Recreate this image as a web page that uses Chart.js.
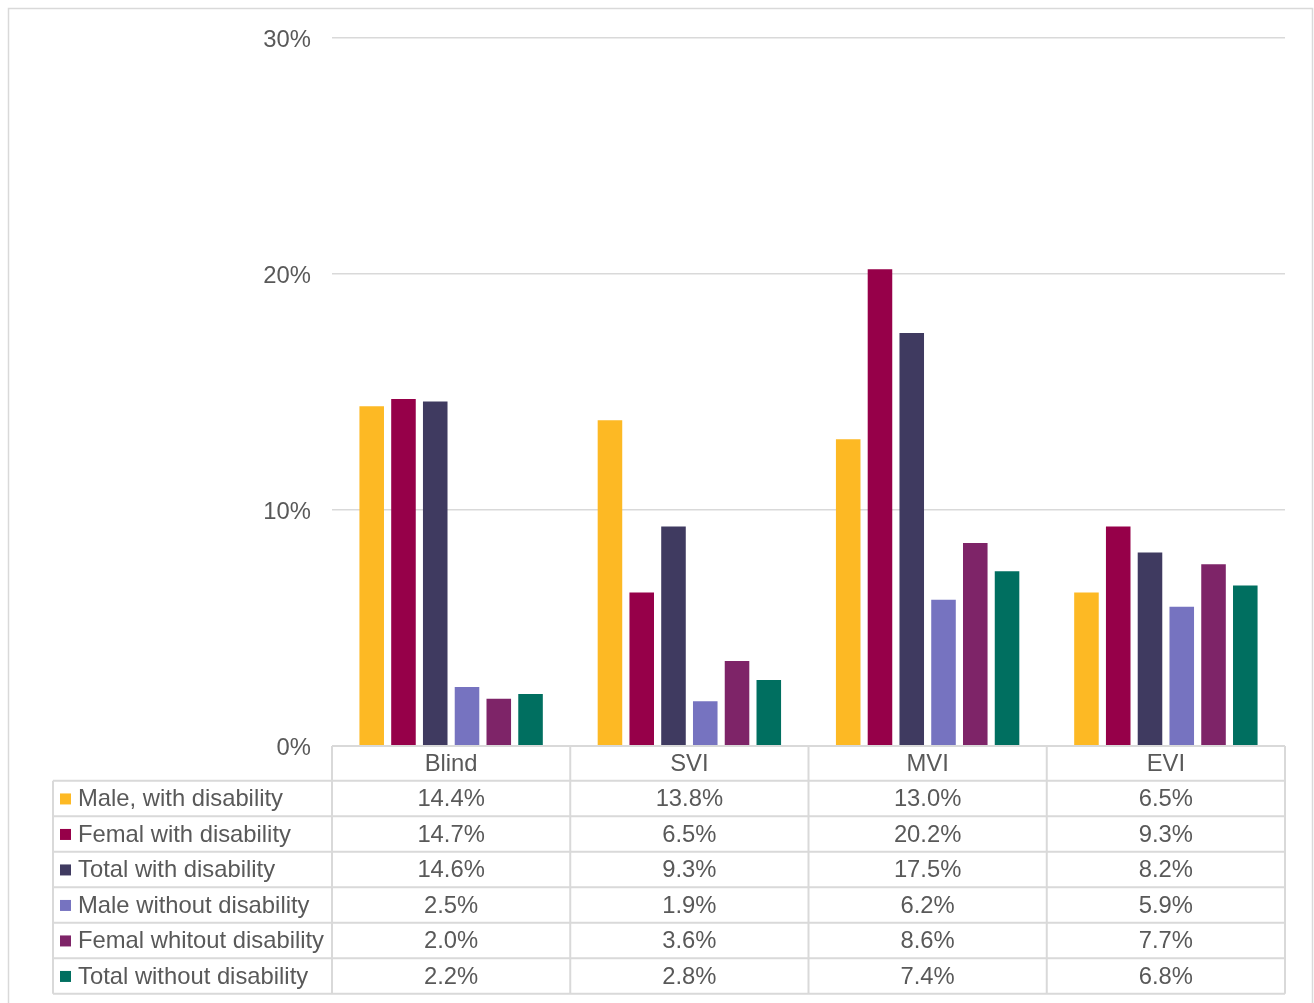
<!DOCTYPE html>
<html><head><meta charset="utf-8">
<script src="https://cdn.jsdelivr.net/npm/chart.js@4.4.0/dist/chart.umd.min.js"></script>
<style>html,body{margin:0;padding:0;background:#fff;} #wrap{position:relative;width:1314px;height:1003px;}</style>
</head><body><div id="wrap"><canvas id="c" width="1314" height="1003"></canvas></div>
<script>
const categories = ['Blind', 'SVI', 'MVI', 'EVI'];
const seriesNames = ['Male, with disability', 'Femal with disability', 'Total with disability', 'Male without disability', 'Femal whitout disability', 'Total without disability'];
const maleWith = [14.4, 13.8, 13.0, 6.5];
const femalWith = [14.7, 6.5, 20.2, 9.3];
const totalWith = [14.6, 9.3, 17.5, 8.2];
const maleWithout = [2.5, 1.9, 6.2, 5.9];
const femalWithout = [2.0, 3.6, 8.6, 7.7];
const totalWithout = [2.2, 2.8, 7.4, 6.8];
const yTickValues = [0, 10, 20, 30];
const seriesColors = ['#FDB924', '#960049', '#3F3A60', '#7673C0', '#7E2468', '#006F60'];

const seriesValues = [maleWith, femalWith, totalWith, maleWithout, femalWithout, totalWithout];
const FONT = "'Liberation Sans', Arial, sans-serif";
const FSIZE = 23.8;
const TXT = '#595959';
const LINE = '#D9D9D9';

const tablePlugin = {
  id: 'dataTable',
  afterDraw(chart) {
    const ctx = chart.ctx;
    const area = chart.chartArea;
    const xs = chart.scales.x;
    const n = categories.length;
    const colW = (area.right - area.left) / n;
    const labelLeft = 53;
    const headTop = area.bottom;
    const headBottom = headTop + 34.7;
    const rowH = 35.5;
    const nRows = seriesNames.length;
    const tableBottom = headBottom + rowH * nRows;
    ctx.save();
    ctx.strokeStyle = LINE;
    ctx.lineWidth = 2;
    ctx.beginPath();
    ctx.moveTo(area.left, headTop); ctx.lineTo(area.right, headTop);
    for (let r = 0; r <= nRows; r++) {
      const y = headBottom + r * rowH;
      ctx.moveTo(labelLeft, y); ctx.lineTo(area.right, y);
    }
    ctx.moveTo(labelLeft, headBottom); ctx.lineTo(labelLeft, tableBottom);
    for (let c = 0; c <= n; c++) {
      const x = area.left + c * colW;
      ctx.moveTo(x, headTop); ctx.lineTo(x, tableBottom);
    }
    ctx.stroke();

    ctx.font = FSIZE + 'px ' + FONT;
    ctx.fillStyle = TXT;
    ctx.textBaseline = 'middle';
    ctx.textAlign = 'center';
    categories.forEach((cat, i) => {
      ctx.fillText(cat, xs.getPixelForValue(i), (headTop + headBottom) / 2 + 1);
    });
    seriesNames.forEach((name, r) => {
      const yc = headBottom + rowH * (r + 0.5) + 1;
      ctx.fillStyle = seriesColors[r];
      ctx.fillRect(60, yc - 6, 11, 11);
      ctx.fillStyle = TXT;
      ctx.textAlign = 'left';
      ctx.fillText(name, 78, yc);
      ctx.textAlign = 'center';
      seriesValues[r].forEach((v, i) => {
        ctx.fillText(v.toFixed(1) + '%', xs.getPixelForValue(i), yc);
      });
    });
    ctx.lineWidth = 1.5;
    ctx.strokeRect(8.5, 8.5, 1304, 1010);
    ctx.restore();
  }
};

new Chart(document.getElementById('c'), {
  type: 'bar',
  data: {
    labels: categories,
    datasets: seriesNames.map((name, i) => ({
      label: name,
      data: seriesValues[i],
      backgroundColor: seriesColors[i],
      borderWidth: 0,
      categoryPercentage: 0.8,
      barPercentage: 0.773
    }))
  },
  options: {
    responsive: false,
    devicePixelRatio: 1,
    animation: false,
    layout: { padding: { left: 0, right: 29, top: 38, bottom: 257 } },
    plugins: { legend: { display: false }, tooltip: { enabled: false } },
    scales: {
      x: { display: false },
      y: {
        min: 0, max: 30,
        afterFit(scale) { scale.width = 332; },
        afterBuildTicks(scale) { scale.ticks = yTickValues.map(v => ({ value: v })); },
        border: { display: false },
        grid: { color: c => c.tick && c.tick.value === 0 ? 'rgba(0,0,0,0)' : LINE, lineWidth: 1.5, drawTicks: false },
        ticks: {
          padding: 21,
          labelOffset: 2,
          color: TXT,
          font: { family: FONT, size: FSIZE },
          callback: v => v + '%'
        }
      }
    }
  },
  plugins: [tablePlugin]
});
</script>
</body></html>
